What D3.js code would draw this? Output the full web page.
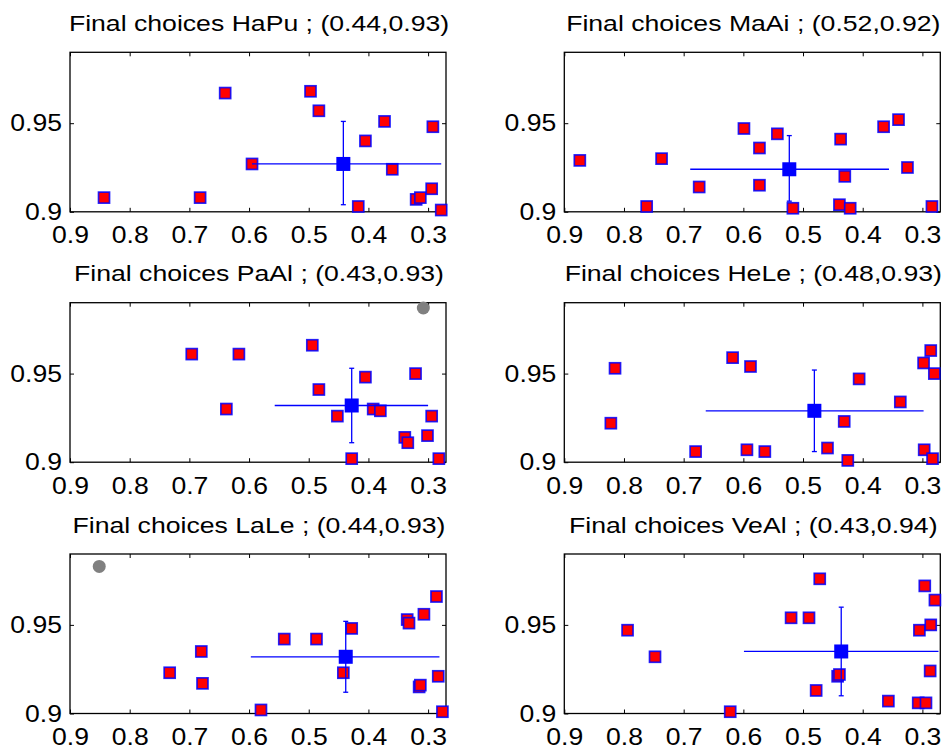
<!DOCTYPE html>
<html lang="en">
<head>
  <meta charset="UTF-8">
  <title>Final choices</title>
  <style>
    body { margin: 0; background: #fff; }
    text { font-family: "Liberation Sans", Arial, Helvetica, sans-serif; fill: #000; }
  </style>
  <script src="https://cdnjs.cloudflare.com/ajax/libs/d3/7.8.5/d3.min.js"></script>
</head>
<body>
  <div id="chart"></div>

  <script>
    // one entry per panel, in reading order
    const subjects = ["HaPu", "MaAi", "PaAl", "HeLe", "LaLe", "VeAl"];
    const titleStats = ["(0.44,0.93)", "(0.52,0.92)", "(0.43,0.93)", "(0.48,0.93)", "(0.44,0.93)", "(0.43,0.94)"];

    const meanX = [0.442, 0.523, 0.428, 0.481, 0.438, 0.436];
    const meanY = [0.927, 0.924, 0.932, 0.929, 0.932, 0.935];
    const errXLeft = [0.595, 0.689, 0.557, 0.663, 0.597, 0.599];
    const errXRight = [0.278, 0.356, 0.300, 0.298, 0.281, 0.273];
    const errYLow = [0.904, 0.906, 0.911, 0.906, 0.912, 0.910];
    const errYHigh = [0.951, 0.943, 0.953, 0.952, 0.952, 0.960];

    // grey dots (only two panels have one)
    const outlierX = [null, null, 0.308, null, 0.851, null];
    const outlierY = [null, null, 0.987, null, 0.983, null];

    const haPuX = [0.843, 0.682, 0.640, 0.595, 0.497, 0.483, 0.417, 0.405, 0.373, 0.360, 0.320, 0.313, 0.294, 0.292, 0.278];
    const haPuY = [0.908, 0.908, 0.967, 0.927, 0.968, 0.957, 0.903, 0.940, 0.951, 0.924, 0.907, 0.908, 0.913, 0.948, 0.901];

    const maAiX = [0.874, 0.762, 0.737, 0.674, 0.599, 0.573, 0.573, 0.543, 0.517, 0.437, 0.439, 0.430, 0.421, 0.365, 0.340, 0.325, 0.284];
    const maAiY = [0.929, 0.903, 0.930, 0.914, 0.947, 0.936, 0.915, 0.944, 0.902, 0.941, 0.904, 0.920, 0.902, 0.948, 0.952, 0.925, 0.903];

    const paAlX = [0.696, 0.638, 0.617, 0.494, 0.483, 0.452, 0.428, 0.405, 0.392, 0.380, 0.339, 0.334, 0.321, 0.301, 0.294, 0.282];
    const paAlY = [0.961, 0.930, 0.961, 0.966, 0.941, 0.926, 0.902, 0.948, 0.930, 0.929, 0.914, 0.911, 0.950, 0.915, 0.926, 0.902];

    const heLeX = [0.815, 0.822, 0.680, 0.618, 0.588, 0.594, 0.564, 0.459, 0.431, 0.425, 0.406, 0.337, 0.298, 0.286, 0.280, 0.297, 0.283];
    const heLeY = [0.953, 0.922, 0.906, 0.959, 0.954, 0.907, 0.906, 0.908, 0.923, 0.901, 0.947, 0.934, 0.956, 0.963, 0.950, 0.907, 0.902];

    const laLeX = [0.733, 0.680, 0.678, 0.580, 0.541, 0.487, 0.442, 0.428, 0.335, 0.332, 0.307, 0.286, 0.315, 0.313, 0.283, 0.276];
    const laLeY = [0.923, 0.935, 0.917, 0.902, 0.942, 0.942, 0.923, 0.948, 0.953, 0.951, 0.956, 0.966, 0.915, 0.916, 0.921, 0.901];

    const veAlX = [0.794, 0.748, 0.622, 0.520, 0.490, 0.472, 0.478, 0.442, 0.439, 0.357, 0.307, 0.294, 0.305, 0.296, 0.279, 0.286, 0.287];
    const veAlY = [0.947, 0.932, 0.901, 0.954, 0.954, 0.976, 0.913, 0.921, 0.922, 0.907, 0.906, 0.906, 0.947, 0.972, 0.964, 0.950, 0.924];

    const pointsX = [haPuX, maAiX, paAlX, heLeX, laLeX, veAlX];
    const pointsY = [haPuY, maAiY, paAlY, heLeY, laLeY, veAlY];

    const xTicks = [0.9, 0.8, 0.7, 0.6, 0.5, 0.4, 0.3];
    const yTicks = [0.9, 0.95];

    const width = 943, height = 751;
    const panelW = 376, panelH = 159.5;
    const colLeft = [70, 564.3];
    const rowTop = [52.3, 302.7, 554];

    const svg = d3.select("#chart")
      .append("svg")
      .attr("width", width)
      .attr("height", height);

    const x = d3.scaleLinear().domain([0.9, 0.27]).range([0, panelW]);
    const y = d3.scaleLinear().domain([0.9, 0.99]).range([panelH, 0]);

    // glyphs in the picture are a bit wider than Arial
    function stretch(sel, k) {
      sel.each(function() {
        const w = this.getComputedTextLength();
        d3.select(this).attr("textLength", w * k).attr("lengthAdjust", "spacingAndGlyphs");
      });
    }

    subjects.forEach(function(name, i) {
      const g = svg.append("g")
        .attr("transform", `translate(${colLeft[i % 2]},${rowTop[Math.floor(i / 2)]})`);

      // axes, ticks pointing inwards
      const bottom = g.append("g")
        .attr("transform", `translate(0,${panelH})`)
        .call(d3.axisBottom(x).tickValues(xTicks).tickSize(-4).tickPadding(15).tickFormat(d3.format("")));
      const left = g.append("g")
        .call(d3.axisLeft(y).tickValues(yTicks).tickSize(-4).tickPadding(8).tickFormat(d3.format("")));
      g.append("g")
        .call(d3.axisTop(x).tickValues(xTicks).tickSize(-4).tickFormat(""));
      g.append("g")
        .attr("transform", `translate(${panelW},0)`)
        .call(d3.axisRight(y).tickValues(yTicks).tickSize(-4).tickFormat(""));

      g.selectAll(".domain").remove();
      g.selectAll(".tick line").attr("stroke", "#000");
      g.selectAll(".tick text")
        .style("font-size", "23.5px")
        .style("font-family", "'Liberation Sans', Arial, sans-serif");
      bottom.selectAll("text").call(stretch, 1.13);
      left.selectAll("text").call(stretch, 1.13);

      g.append("rect")
        .attr("width", panelW)
        .attr("height", panelH)
        .attr("fill", "none")
        .attr("stroke", "#000")
        .attr("stroke-width", 1.3);

      g.append("text")
        .attr("x", panelW / 2 + 1)
        .attr("y", -21.3)
        .attr("text-anchor", "middle")
        .style("font-size", "22px")
        .text(`Final choices ${name} ; ${titleStats[i]}`)
        .call(stretch, 1.21);

      if (outlierX[i] !== null) {
        g.append("circle")
          .attr("cx", x(outlierX[i]))
          .attr("cy", y(outlierY[i]))
          .attr("r", 6.5)
          .attr("fill", "#808080");
      }

      const pts = d3.zip(pointsX[i], pointsY[i]);
      g.selectAll(".pt")
        .data(pts)
        .enter()
        .append("rect")
        .attr("class", "pt")
        .attr("x", d => x(d[0]) - 5.5)
        .attr("y", d => y(d[1]) - 5.5)
        .attr("width", 11)
        .attr("height", 11)
        .attr("fill", "#ff0000")
        .attr("stroke", "#0000ff")
        .attr("stroke-width", 1.7)
        .attr("stroke-opacity", 0.85);

      // error bars
      const blue = "#0000ff";
      g.append("line")
        .attr("x1", x(errXLeft[i])).attr("x2", x(errXRight[i]))
        .attr("y1", y(meanY[i])).attr("y2", y(meanY[i]))
        .attr("stroke", blue).attr("stroke-width", 1.3);
      g.append("line")
        .attr("x1", x(meanX[i])).attr("x2", x(meanX[i]))
        .attr("y1", y(errYLow[i])).attr("y2", y(errYHigh[i]))
        .attr("stroke", blue).attr("stroke-width", 1.3);
      [errYLow[i], errYHigh[i]].forEach(function(v) {
        g.append("line")
          .attr("x1", x(meanX[i]) - 2.5).attr("x2", x(meanX[i]) + 2.5)
          .attr("y1", y(v)).attr("y2", y(v))
          .attr("stroke", blue).attr("stroke-width", 1.3);
      });

      g.append("rect")
        .attr("x", x(meanX[i]) - 7)
        .attr("y", y(meanY[i]) - 7)
        .attr("width", 14)
        .attr("height", 14)
        .attr("fill", blue);
    });
  </script>
</body>
</html>
